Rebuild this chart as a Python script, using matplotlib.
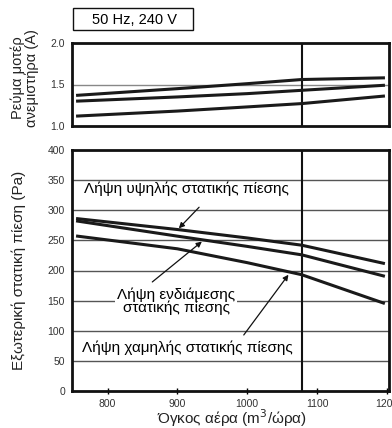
import matplotlib
matplotlib.use("Agg")
import matplotlib.pyplot as plt
from matplotlib.patches import Rectangle

plt.rcParams['font.family'] = ['Liberation Sans', 'DejaVu Sans']

# Data
airflow = [757, 900, 1000, 1078, 1195]
current_high = [1.37, 1.45, 1.51, 1.56, 1.58]
current_mid = [1.30, 1.35, 1.39, 1.43, 1.49]
current_low = [1.12, 1.18, 1.23, 1.27, 1.36]

pressure_high = [286, 268, 254, 242, 212]
pressure_mid = [282, 257, 240, 226, 191]
pressure_low = [257, 236, 213, 193, 146]

rated_airflow = 1078
x_ticks = [800, 900, 1000, 1100, 1200]
top_yticks = [1.0, 1.5, 2.0]
bottom_yticks = [0, 50, 100, 150, 200, 250, 300, 350, 400]

W, H = 392, 428
fig = plt.figure(figsize=(W / 100, H / 100), dpi=100)

def ax_rect(l, t, r, b):
    return [l / W, 1 - b / H, (r - l) / W, (b - t) / H]

def fx(px):
    return px / W

def fy(py):
    return 1 - py / H

ax1 = fig.add_axes(ax_rect(72, 43, 389, 126))
ax2 = fig.add_axes(ax_rect(72, 150, 389, 391))

xlim = (749, 1203)
for ax in (ax1, ax2):
    ax.set_xlim(*xlim)
    for s in ax.spines.values():
        s.set_linewidth(2.0)
        s.set_color('#111111')
    ax.axvline(rated_airflow, color='#111111', lw=1.5, zorder=3)
    ax.tick_params(axis='y', length=0, labelsize=7.5, labelcolor='#333333', pad=5)

# Top: fan motor current
ax1.set_ylim(1.0, 2.0)
ax1.set_yticks(top_yticks)
ax1.set_yticklabels(['1.0', '1.5', '2.0'])
ax1.set_xticks([])
ax1.axhline(1.5, color='#888888', lw=1.0, zorder=1)
for ys in (current_high, current_mid, current_low):
    ax1.plot(airflow, ys, color='#1a1a1a', lw=2.2, zorder=4)
fig.text(fx(25), fy(78), 'Ρεύμα μοτέρ\nανεμιστήρα (A)', fontsize=10.5, rotation=90,
         ha='center', va='center', linespacing=0.95, color='#222222')

# Bottom: external static pressure
ax2.set_ylim(0, 400)
ax2.set_yticks(bottom_yticks)
ax2.set_xticks(x_ticks)
ax2.tick_params(axis='x', direction='inout', length=5, width=1, labelsize=7.5,
                labelcolor='#333333', pad=3)
for yv in bottom_yticks[1:-1]:
    ax2.axhline(yv, color='#555555', lw=1.0, zorder=1)
for ys in (pressure_high, pressure_mid, pressure_low):
    ax2.plot(airflow, ys, color='#1a1a1a', lw=2.2, zorder=4)
fig.text(fx(19), fy(270), 'Εξωτερική στατική πίεση (Pa)', fontsize=11, rotation=90,
         ha='center', va='center', color='#222222')
fig.text(fx(232), fy(424), 'Όγκος αέρα (m$^3$/ώρα)', fontsize=11,
         ha='center', va='baseline', color='#222222')

arrow = dict(arrowstyle='-|>', color='#111111', lw=0.9, mutation_scale=8,
             shrinkA=0, shrinkB=0)
ax2.text(913, 335, 'Λήψη υψηλής στατικής πίεσης', fontsize=11, ha='center',
         va='center', zorder=5)
ax2.annotate('', xy=(902, 270), xytext=(931, 305), arrowprops=arrow, zorder=5)

ax2.text(898, 149, 'Λήψη ενδιάμεσης\nστατικής πίεσης', fontsize=11, ha='center',
         va='center', linespacing=0.95, zorder=5,
         bbox=dict(facecolor='white', edgecolor='none', pad=1.5))
ax2.annotate('', xy=(935, 248), xytext=(864, 181), arrowprops=arrow, zorder=5)

ax2.text(914, 71, 'Λήψη χαμηλής στατικής πίεσης', fontsize=11, ha='center',
         va='center', zorder=5)
ax2.annotate('', xy=(1059, 193), xytext=(995, 93), arrowprops=arrow, zorder=5)

# Header box
fig.patches.append(Rectangle((fx(73), fy(30)), 120 / W, 22 / H,
                             transform=fig.transFigure, facecolor='white',
                             edgecolor='#111111', lw=1.0))
fig.text(fx(134), fy(19.5), '50 Hz, 240 V', fontsize=10.5, ha='center', va='center')

fig.savefig('out.png', dpi=100)
